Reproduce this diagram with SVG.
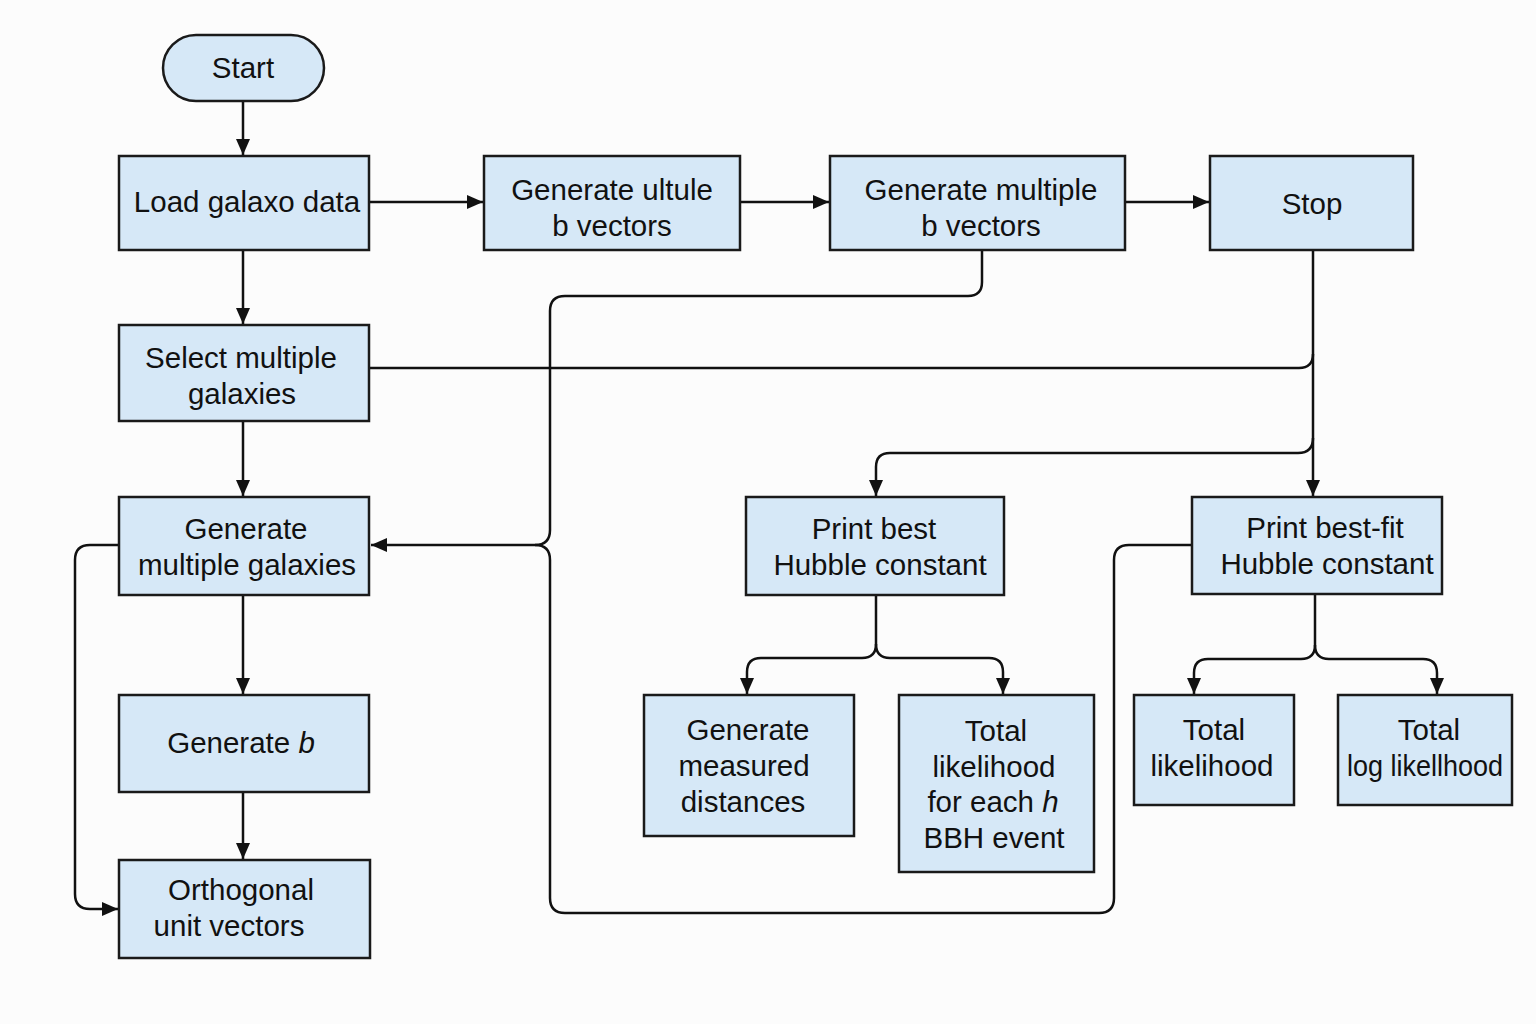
<svg xmlns="http://www.w3.org/2000/svg" width="1536" height="1024" viewBox="0 0 1536 1024">
<style>
.n{fill:#d6e8f7;stroke:#1a1a1a;stroke-width:2.5}
.t{font-family:"Liberation Sans",Arial,sans-serif;font-size:29.5px;fill:#111;text-anchor:middle}
.c{fill:none;stroke:#111;stroke-width:2.5}
</style>
<defs>
<marker id="a" markerWidth="16" markerHeight="16" refX="16" refY="8" orient="auto" markerUnits="userSpaceOnUse" viewBox="0 0 16 16">
<path d="M0,1 L16,8 L0,15 z" fill="#111"/>
</marker>
</defs>
<rect width="1536" height="1024" fill="#fcfcfc"/>
<g id="connectors">
<path class="c" d="M243,101 V155" marker-end="url(#a)"/>
<path class="c" d="M369,202 H483" marker-end="url(#a)"/>
<path class="c" d="M740,202 H829" marker-end="url(#a)"/>
<path class="c" d="M1125,202 H1209" marker-end="url(#a)"/>
<path class="c" d="M243,250 V324" marker-end="url(#a)"/>
<path class="c" d="M243,421 V496" marker-end="url(#a)"/>
<path class="c" d="M243,595 V694" marker-end="url(#a)"/>
<path class="c" d="M243,792 V859" marker-end="url(#a)"/>
<path class="c" d="M1313,250 V496" marker-end="url(#a)"/>
<path class="c" d="M369,368 H1299 Q1313,368 1313,354"/>
<path class="c" d="M1313,438 Q1313,453 1298,453 H890 Q876,453 876,467 V496" marker-end="url(#a)"/>
<path class="c" d="M982,250 V282 Q982,296 968,296 H565 Q550,296 550,311 V530 Q550,545 535,545 H371" marker-end="url(#a)"/>
<path class="c" d="M1192,545 H1129 Q1114,545 1114,560 V898 Q1114,913 1099,913 H565 Q550,913 550,898 V560 Q550,545 535,545"/>
<path class="c" d="M119,545 H90 Q75,545 75,560 V894 Q75,909 90,909 H118" marker-end="url(#a)"/>
<path class="c" d="M876,595 V644 Q876,658 862,658 H761 Q747,658 747,672 V694" marker-end="url(#a)"/>
<path class="c" d="M876,644 Q876,658 890,658 H989 Q1003,658 1003,672 V694" marker-end="url(#a)"/>
<path class="c" d="M1315,594 V645 Q1315,659 1301,659 H1208 Q1194,659 1194,673 V694" marker-end="url(#a)"/>
<path class="c" d="M1315,645 Q1315,659 1329,659 H1423 Q1437,659 1437,673 V694" marker-end="url(#a)"/>
</g>
<g id="start"><rect class="n" x="163" y="35" width="161" height="66" rx="33"/><text class="t" x="243" y="78">Start</text></g>
<g id="load"><rect class="n" x="119" y="156" width="250" height="94"/><text class="t" x="247" y="212">Load galaxo data</text></g>
<g id="genultule"><rect class="n" x="484" y="156" width="256" height="94"/><text class="t" x="612" y="200">Generate ultule</text><text class="t" x="612" y="236">b vectors</text></g>
<g id="genmultb"><rect class="n" x="830" y="156" width="295" height="94"/><text class="t" x="981" y="200">Generate multiple</text><text class="t" x="981" y="236">b vectors</text></g>
<g id="stop"><rect class="n" x="1210" y="156" width="203" height="94"/><text class="t" x="1312" y="214">Stop</text></g>
<g id="select"><rect class="n" x="119" y="325" width="250" height="96"/><text class="t" x="241" y="368">Select multiple</text><text class="t" x="242" y="404">galaxies</text></g>
<g id="genmultgal"><rect class="n" x="119" y="497" width="250" height="98"/><text class="t" x="246" y="539">Generate</text><text class="t" x="247" y="575">multiple galaxies</text></g>
<g id="genb"><rect class="n" x="119" y="695" width="250" height="97"/><text class="t" x="241" y="753">Generate <tspan font-style="italic">b</tspan></text></g>
<g id="ortho"><rect class="n" x="119" y="860" width="251" height="98"/><text class="t" x="241" y="900">Orthogonal</text><text class="t" x="229" y="936">unit vectors</text></g>
<g id="printbest"><rect class="n" x="746" y="497" width="258" height="98"/><text class="t" x="874" y="539">Print best</text><text class="t" x="880" y="575">Hubble constant</text></g>
<g id="printbestfit"><rect class="n" x="1192" y="497" width="250" height="97"/><text class="t" x="1325" y="538">Print best-fit</text><text class="t" x="1327" y="574">Hubble constant</text></g>
<g id="genmeas"><rect class="n" x="644" y="695" width="210" height="141"/><text class="t" x="748" y="740">Generate</text><text class="t" x="744" y="776">measured</text><text class="t" x="743" y="812">distances</text></g>
<g id="totalh"><rect class="n" x="899" y="695" width="195" height="177"/><text class="t" x="996" y="741">Total</text><text class="t" x="994" y="777">likelihood</text><text class="t" x="993" y="812">for each <tspan font-style="italic">h</tspan></text><text class="t" x="994" y="848">BBH event</text></g>
<g id="totallik"><rect class="n" x="1134" y="695" width="160" height="110"/><text class="t" x="1214" y="740">Total</text><text class="t" x="1212" y="776">likelihood</text></g>
<g id="totallog"><rect class="n" x="1338" y="695" width="174" height="110"/><text class="t" x="1429" y="740">Total</text><text class="t" x="1425" y="776" textLength="156" lengthAdjust="spacingAndGlyphs">log likellhood</text></g>
</svg>
